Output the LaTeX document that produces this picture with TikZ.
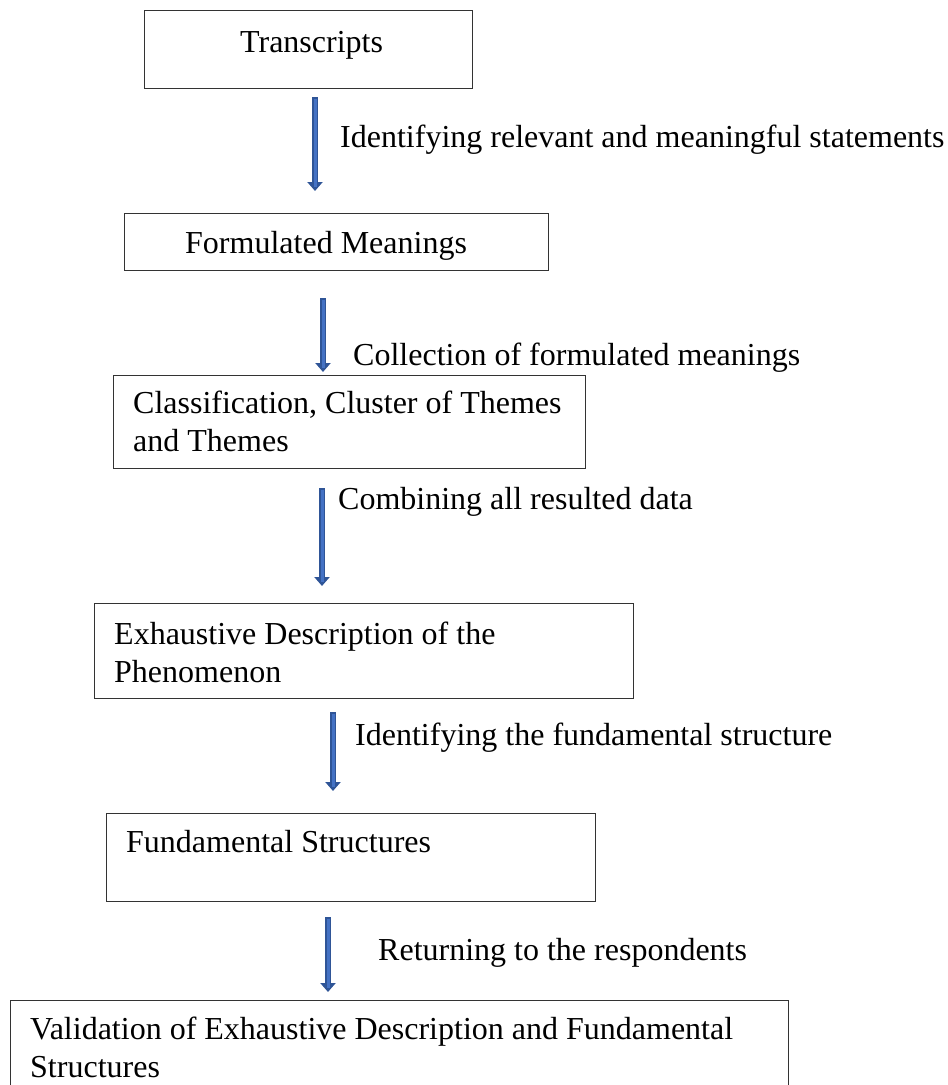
\documentclass[tikz,border=0pt]{standalone}
\usepackage{fontspec}
\setmainfont{Liberation Serif}
\usetikzlibrary{arrows.meta}

\definecolor{arrowblue}{HTML}{4472C4}
\definecolor{arrowdark}{HTML}{2F5597}

\tikzset{
  stepbox/.style={draw=black!80, line width=1.2pt, inner sep=0pt, anchor=north west},
  boxtext/.style={anchor=base west, inner sep=0pt, align=left},
  flow/.style={draw=arrowdark, line width=6pt, -{Triangle[length=9pt,width=15pt]}},
  flowin/.style={draw=arrowblue, line width=3pt, shorten >=4pt},
  steplabel/.style={anchor=base west, inner sep=0pt}
}

\begin{document}
\begin{tikzpicture}[x=1pt, y=1pt, font=\fontsize{32}{38}\selectfont]
  \useasboundingbox (0,0) rectangle (948,-1085);

  % Boxes
  \node[stepbox, minimum width=328pt, minimum height=78pt] (trans) at (144,-10) {};
  \node[stepbox, minimum width=424pt, minimum height=57pt] (formul) at (124,-213) {};
  \node[stepbox, minimum width=472pt, minimum height=93pt] (classif) at (113,-375) {};
  \node[stepbox, minimum width=539pt, minimum height=95pt] (exhaust) at (94,-603) {};
  \node[stepbox, minimum width=489pt, minimum height=88pt] (fundam) at (106,-813) {};
  \node[stepbox, minimum width=778pt, minimum height=90pt] (valid) at (10,-1000) {};

  % Box texts (base = last line)
  \node[boxtext] (transtxt) at (240,-52) {Transcripts};
  \node[boxtext] (formultxt) at (185,-253) {Formulated Meanings};
  \node[boxtext] (classiftxt) at (133,-451) {Classification, Cluster of Themes\\and Themes};
  \node[boxtext] (exhausttxt) at (114,-682) {Exhaustive Description of the\\Phenomenon};
  \node[boxtext] (fundamtxt) at (126,-852) {Fundamental Structures};
  \node[boxtext] (validtxt) at (30,-1077) {Validation of Exhaustive Description and Fundamental\\Structures};

  % Arrow ends
  \coordinate (a1s) at (315,-97);  \coordinate (a1e) at (315,-191);
  \coordinate (a2s) at (323,-298); \coordinate (a2e) at (323,-372);
  \coordinate (a3s) at (322,-488); \coordinate (a3e) at (322,-586);
  \coordinate (a4s) at (333,-712); \coordinate (a4e) at (333,-791);
  \coordinate (a5s) at (328,-917); \coordinate (a5e) at (328,-992);

  % Arrows
  \foreach \s/\e in {a1s/a1e, a2s/a2e, a3s/a3e, a4s/a4e, a5s/a5e} {
    \draw[flow] (\s) -- (\e);
    \draw[flowin] ([yshift=-1.5pt]\s) -- (\e);
  }

  % Arrow labels
  \node[steplabel] (lab1) at (340,-147) {Identifying relevant and meaningful statements};
  \node[steplabel] (lab2) at (353,-365) {Collection of formulated meanings};
  \node[steplabel] (lab3) at (338,-509) {Combining all resulted data};
  \node[steplabel] (lab4) at (355,-745) {Identifying the fundamental structure};
  \node[steplabel] (lab5) at (378,-960) {Returning to the respondents};
\end{tikzpicture}
\end{document}
